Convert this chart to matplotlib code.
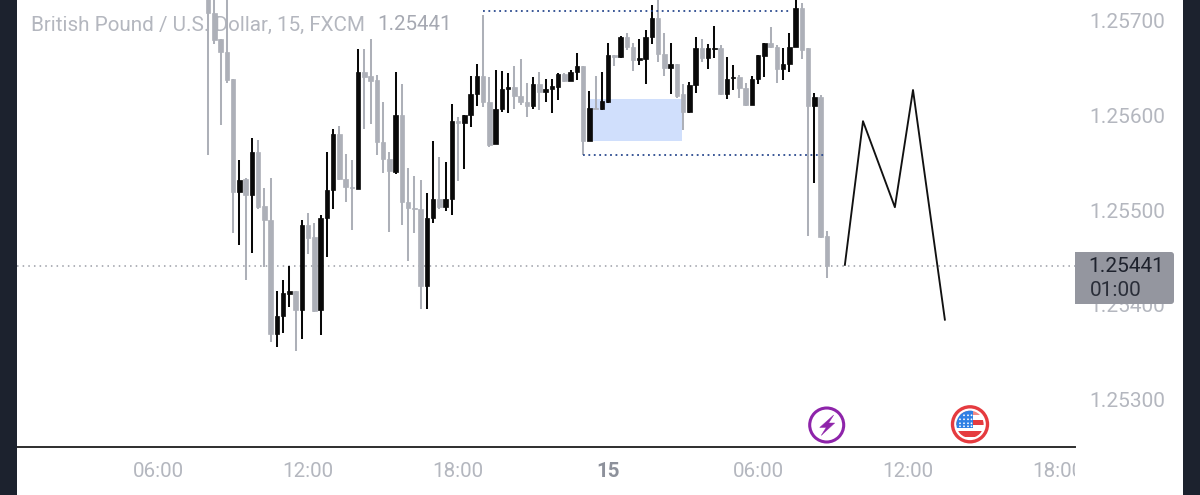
import matplotlib
matplotlib.use("Agg")
import matplotlib.pyplot as plt
from matplotlib.patches import Rectangle, Circle, Polygon, FancyBboxPatch
from matplotlib.transforms import Bbox, TransformedBbox, IdentityTransform

plt.rcParams['font.family'] = ['Roboto', 'DejaVu Sans']

# candle data, 15-minute bars, index 0 = 06:00
first_index = 8
opens = [1.25725,1.25708,1.25681,1.25667,1.25639,1.25519,1.25533,1.25516,1.25561,1.25504,
         1.25489,1.25369,1.25388,1.25411,1.25414,1.25394,1.25484,1.25471,1.25394,1.25492,
         1.25521,1.25580,1.25533,1.25524,1.25522,1.25646,1.25642,1.25638,1.25572,1.25554,
         1.25540,1.25601,1.25509,1.25502,1.25501,1.25420,1.25492,1.25512,1.25503,1.25512,
         1.25594,1.25592,1.25601,1.25623,1.25642,1.25614,1.25570,1.25607,1.25628,1.25630,
         1.25621,1.25614,1.25610,1.25633,1.25625,1.25628,1.25630,1.25644,1.25636,1.25646,
         1.25652,1.25573,1.25608,1.25607,1.25614,1.25664,1.25662,1.25683,1.25673,1.25659,
         1.25660,1.25683,1.25703,1.25665,1.25650,1.25654,1.25623,1.25604,1.25632,1.25671,
         1.25661,1.25670,1.25671,1.25623,1.25640,1.25641,1.25629,1.25611,1.25639,1.25663,
         1.25677,1.25673,1.25649,1.25654,1.25672,1.25714,1.25671,1.25610,1.25620,1.25473]
highs = [1.25740,1.25725,1.25681,1.25730,1.25639,1.25553,1.25534,1.25576,1.25574,1.25523,
         1.25534,1.25414,1.25426,1.25441,1.25414,1.25489,1.25497,1.25486,1.25495,1.25561,
         1.25586,1.25589,1.25559,1.25553,1.25670,1.25670,1.25681,1.25643,1.25614,1.25561,
         1.25646,1.25633,1.25544,1.25536,1.25532,1.25518,1.25573,1.25556,1.25551,1.25612,
         1.25598,1.25601,1.25642,1.25654,1.25706,1.25641,1.25648,1.25647,1.25645,1.25652,
         1.25660,1.25634,1.25641,1.25646,1.25639,1.25639,1.25645,1.25645,1.25648,1.25666,
         1.25652,1.25626,1.25642,1.25646,1.25677,1.25664,1.25684,1.25687,1.25677,1.25681,
         1.25690,1.25717,1.25730,1.25687,1.25677,1.25654,1.25633,1.25635,1.25683,1.25681,
         1.25676,1.25695,1.25675,1.25662,1.25653,1.25643,1.25634,1.25642,1.25664,1.25677,
         1.25694,1.25675,1.25671,1.25687,1.25730,1.25719,1.25671,1.25624,1.25622,1.25478]
lows = [1.25558,1.25676,1.25590,1.25634,1.25476,1.25463,1.25426,1.25455,1.25501,1.25440,
        1.25360,1.25355,1.25370,1.25397,1.25351,1.25364,1.25453,1.25392,1.25368,1.25450,
        1.25501,1.25532,1.25508,1.25479,1.25522,1.25586,1.25591,1.25558,1.25539,1.25477,
        1.25538,1.25484,1.25446,1.25476,1.25395,1.25395,1.25486,1.25501,1.25499,1.25495,
        1.25531,1.25543,1.25588,1.25610,1.25609,1.25567,1.25570,1.25604,1.25603,1.25607,
        1.25611,1.25598,1.25607,1.25606,1.25614,1.25603,1.25616,1.25635,1.25636,1.25638,
        1.25558,1.25573,1.25607,1.25606,1.25613,1.25652,1.25661,1.25669,1.25647,1.25653,
        1.25633,1.25676,1.25657,1.25642,1.25623,1.25619,1.25585,1.25603,1.25624,1.25657,
        1.25649,1.25661,1.25622,1.25617,1.25627,1.25619,1.25610,1.25611,1.25633,1.25641,
        1.25671,1.25634,1.25638,1.25646,1.25672,1.25660,1.25473,1.25529,1.25470,1.25428]
closes = [1.25708,1.25680,1.25667,1.25638,1.25519,1.25532,1.25516,1.25561,1.25503,1.25489,
          1.25369,1.25388,1.25412,1.25414,1.25394,1.25484,1.25470,1.25393,1.25492,1.25521,
          1.25580,1.25533,1.25524,1.25523,1.25646,1.25641,1.25636,1.25572,1.25554,1.25541,
          1.25601,1.25509,1.25502,1.25501,1.25420,1.25492,1.25512,1.25503,1.25512,1.25594,
          1.25592,1.25601,1.25623,1.25642,1.25614,1.25569,1.25607,1.25628,1.25630,1.25621,
          1.25614,1.25610,1.25633,1.25625,1.25628,1.25631,1.25644,1.25636,1.25646,1.25652,
          1.25573,1.25608,1.25607,1.25615,1.25664,1.25662,1.25683,1.25672,1.25659,1.25661,
          1.25683,1.25703,1.25665,1.25650,1.25654,1.25621,1.25604,1.25632,1.25671,1.25661,
          1.25671,1.25671,1.25623,1.25639,1.25641,1.25629,1.25611,1.25639,1.25664,1.25677,
          1.25672,1.25649,1.25654,1.25672,1.25714,1.25669,1.25610,1.25620,1.25471,1.25441]

# drawn annotations
level_high = 1.25711
level_high_span = [52.0, 101.0]
level_low = 1.25558
level_low_span = [68.0, 106.5]
zone_span = [69.0, 83.8]
zone_prices = [1.25573, 1.25617]
projection_index = [109.9, 112.8, 117.9, 120.8, 125.9]
projection_price = [1.25442, 1.25594, 1.25503, 1.25627, 1.25384]
last_price = 1.25441

# axis text
price_ticks = [1.25300, 1.25400, 1.25500, 1.25600, 1.25700]
time_ticks = [0, 24, 48, 72, 96, 120, 144]
time_labels = ['06:00', '12:00', '18:00', '15', '06:00', '12:00', '18:00']
title_name = 'British Pound / U.S. Dollar, 15, FXCM'
title_price = '1.25441'
countdown = '01:00'

GREY = '#adb0b8'
BLACK = '#090909'
TEXT = '#b4b7bf'

W, H = 1200, 495
fig = plt.figure(figsize=(12, 4.95), dpi=100, facecolor='white')
ax = fig.add_axes([17 / W, (H - 447) / H, (1075 - 17) / W, 447 / H])
ax.set_xlim(-22.56, 146.72)
ax.set_ylim(1.252493, 1.257222)

for s in ['top', 'left', 'right']:
    ax.spines[s].set_visible(False)
ax.spines['bottom'].set_color('#2e2e2e')
ax.spines['bottom'].set_linewidth(1.4)

ax.yaxis.tick_right()
ax.set_yticks(price_ticks, [f'{p:.5f}' for p in price_ticks])
ax.tick_params(axis='y', length=0, pad=10.0, labelsize=15, labelcolor=TEXT)
ax.set_xticks(time_ticks, time_labels)
ax.tick_params(axis='x', length=0, pad=11, labelsize=14.8, labelcolor=TEXT)
clip = TransformedBbox(Bbox([[0, 0], [1075, 495]]), IdentityTransform())
for lab in ax.get_xticklabels():
    lab.set_clip_box(clip)
    lab.set_clip_on(True)
    if lab.get_text() == '15':
        lab.set_fontweight('bold')
        lab.set_color('#8d919b')

# zone and levels
ax.add_patch(Rectangle((zone_span[0], zone_prices[0]), zone_span[1] - zone_span[0],
                       zone_prices[1] - zone_prices[0], facecolor='#d0dffc',
                       edgecolor='none', zorder=1))
ax.hlines(level_high, *level_high_span, color='#2b4a8f', lw=1.3,
          linestyle=(0, (1, 2.0)), zorder=3.6)
ax.hlines(level_low, *level_low_span, color='#2b4a8f', lw=1.3,
          linestyle=(0, (1, 2.0)), zorder=3.6)
ax.axhline(last_price, color='#9a9da6', lw=1.1, linestyle=(0, (1, 2.7)), zorder=1.5)

# candles
for k, (o, h, l, c) in enumerate(zip(opens, highs, lows, closes)):
    x = first_index + k
    col = BLACK if c > o else GREY
    ax.vlines(x, l, h, color=col, lw=1.45, zorder=3)
    ax.bar(x, abs(c - o), bottom=min(o, c), width=0.72, color=col,
           edgecolor=col, linewidth=0.5, zorder=3.5)

# projection
ax.plot(projection_index, projection_price, color='#111111', lw=1.35, zorder=4)

# pixel-space overlay for header, price tag and icons
ov = fig.add_axes([0, 0, 1, 1], zorder=5)
ov.set_xlim(0, W)
ov.set_ylim(H, 0)
ov.axis('off')
ov.patch.set_alpha(0)

ax.text(31, 25, title_name, transform=ov.transData, fontsize=14.9, color=TEXT,
        va='center', ha='left', zorder=2, clip_on=False)
ax.text(377, 25, title_price, transform=ov.transData, fontsize=14.8, color='#a6a9b2',
        va='center', ha='left', zorder=2, clip_on=False)

# side bars
ov.add_patch(Rectangle((0, 0), 17, H, facecolor='#1c222e', edgecolor='none'))
ov.add_patch(Rectangle((1183, 0), 17, H, facecolor='#1c222e', edgecolor='none'))

# price tag
ov.add_patch(FancyBboxPatch((1075, 252), 99, 52, boxstyle='round,pad=0,rounding_size=3',
                            facecolor='#94969f', edgecolor='none'))
ov.add_patch(Rectangle((1075, 252), 6, 52, facecolor='#94969f', edgecolor='none'))
ov.text(1088.5, 266, f'{last_price:.5f}', fontsize=15, color='#1e222d', va='center', ha='left')
ov.text(1089.5, 291, countdown, fontsize=15, color='#2a2e39', va='center', ha='left')

# lightning icon
cx, cy = 826.7, 425
PURPLE = '#8e24aa'
ov.add_patch(Circle((cx, cy), 17, facecolor='white', edgecolor=PURPLE, lw=2.2))
bolt = [(7, -10), (-7, 2.5), (-0.5, 2.5), (-5.5, 10.5), (8, -2), (2, -2)]
ov.add_patch(Polygon([(cx + a, cy + b) for a, b in bolt], closed=True,
                     facecolor=PURPLE, edgecolor=PURPLE, lw=0.3))

# flag icon
fx, fy = 970, 424.3
RED = '#e53b3f'
ov.add_patch(Circle((fx, fy), 17.5, facecolor='white', edgecolor=RED, lw=2.4))
disc = Circle((fx, fy), 13.6, facecolor='white', edgecolor='none')
ov.add_patch(disc)
for yy, hh, cc in [(-14, 5, '#f28b86'), (-4, 5, RED), (7, 6, RED)]:
    r = Rectangle((fx - 14, fy + yy), 28, hh, facecolor=cc, edgecolor='none')
    ov.add_patch(r)
    r.set_clip_path(disc)
canton = Rectangle((fx - 14, fy - 14), 17, 18, facecolor='#2f80e4', edgecolor='none')
ov.add_patch(canton)
canton.set_clip_path(disc)
for dy in (-9, -5, -1, 2):
    for dx in (-10, -6, -2, 1.5):
        if dx * dx + dy * dy < 150:
            ov.add_patch(Circle((fx + dx, fy + dy), 0.9, facecolor='white', edgecolor='none'))

fig.savefig('out.png', dpi=100, facecolor='white')
